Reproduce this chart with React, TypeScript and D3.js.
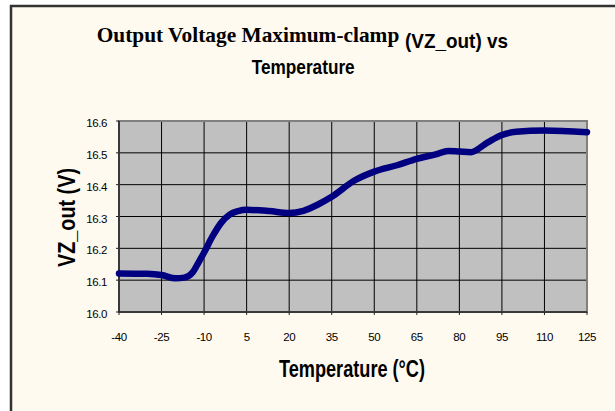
import * as d3 from "d3";

const W = 615, H = 411;
const PLOT = { left: 119, right: 587, top: 121, bottom: 312 };

// temperature (°C) and VZ_out (V)
const temps = [-40, -30, -25, -20, -17, -14, -12, -10, -7, -4, -1, 2, 5, 13, 20, 25, 30, 35, 43, 50, 58, 65, 72, 76, 80, 84, 90, 95, 100, 110, 125];
const vzOut = [16.121, 16.12, 16.116, 16.106, 16.108, 16.125, 16.155, 16.187, 16.238, 16.28, 16.306, 16.317, 16.321, 16.317, 16.311, 16.318, 16.337, 16.362, 16.413, 16.441, 16.461, 16.481, 16.496, 16.506, 16.504, 16.502, 16.533, 16.556, 16.566, 16.57, 16.565];

const xTicks = [-40, -25, -10, 5, 20, 35, 50, 65, 80, 95, 110, 125];
const yTicks = [16.0, 16.1, 16.2, 16.3, 16.4, 16.5, 16.6];

const SANS = "'Liberation Sans', Arial, sans-serif";
const SERIF = "'Liberation Serif', 'Times New Roman', serif";

export default function App() {
  const x = d3.scaleLinear([-40, 125], [PLOT.left, PLOT.right]);
  const y = d3.scaleLinear([16.0, 16.6], [PLOT.bottom, PLOT.top]);

  const line = d3
    .line<number>()
    .x((_, i) => x(temps[i]))
    .y((v) => y(v))
    .curve(d3.curveMonotoneX);

  return (
    <div style={{ position: "fixed", left: 0, top: 0 }}>
      <svg width={W} height={H} style={{ display: "block", background: "#ffffff" }}>
        {/* frame */}
        <rect x={11} y={6} width={640} height={440} fill="#FFFAF0" stroke="#333333" strokeWidth={2.5} />

        {/* title */}
        <text x={96.7} y={41.7} fontFamily={SERIF} fontWeight="bold" fontSize={21}
          textLength={302.6} lengthAdjust="spacingAndGlyphs" fill="#000">
          Output Voltage Maximum-clamp
        </text>
        <text x={405} y={48.3} fontFamily={SANS} fontWeight="bold" fontSize={21}
          textLength={103} lengthAdjust="spacingAndGlyphs" fill="#000">
          (VZ_out) vs
        </text>
        <text x={251.7} y={74.3} fontFamily={SANS} fontWeight="bold" fontSize={21}
          textLength={103} lengthAdjust="spacingAndGlyphs" fill="#000">
          Temperature
        </text>

        {/* plot area */}
        <rect x={PLOT.left} y={PLOT.top} width={PLOT.right - PLOT.left} height={PLOT.bottom - PLOT.top}
          fill="#C0C0C0" />

        {/* grid */}
        {yTicks.slice(1, -1).map((t) => (
          <line key={`gy${t}`} x1={PLOT.left} x2={PLOT.right} y1={y(t)} y2={y(t)} stroke="#000" strokeWidth={1} />
        ))}
        {xTicks.slice(1, -1).map((t) => (
          <line key={`gx${t}`} x1={x(t)} x2={x(t)} y1={PLOT.top} y2={PLOT.bottom} stroke="#000" strokeWidth={1} />
        ))}

        {/* plot border */}
        <rect x={PLOT.left} y={PLOT.top} width={PLOT.right - PLOT.left} height={PLOT.bottom - PLOT.top}
          fill="none" stroke="#808080" strokeWidth={2} />

        {/* axes */}
        <line x1={PLOT.left} x2={PLOT.left} y1={PLOT.top} y2={PLOT.bottom} stroke="#222" strokeWidth={1.5} />
        <line x1={PLOT.left} x2={PLOT.right} y1={PLOT.bottom} y2={PLOT.bottom} stroke="#222" strokeWidth={1.5} />
        {yTicks.map((t) => (
          <g key={`ty${t}`}>
            <line x1={PLOT.left - 3} x2={PLOT.left} y1={y(t)} y2={y(t)} stroke="#222" strokeWidth={1} />
            <text x={107} y={y(t) + 6} textAnchor="end" fontFamily={SANS} fontSize={11.5}
              letterSpacing={-0.4} fill="#000">
              {t.toFixed(1)}
            </text>
          </g>
        ))}
        {xTicks.map((t) => (
          <g key={`tx${t}`}>
            <line x1={x(t)} x2={x(t)} y1={PLOT.bottom} y2={PLOT.bottom + 3} stroke="#222" strokeWidth={1} />
            <text x={x(t)} y={341} textAnchor="middle" fontFamily={SANS} fontSize={11.5}
              letterSpacing={-0.4} fill="#000">
              {t}
            </text>
          </g>
        ))}

        {/* series */}
        <path d={line(vzOut) ?? ""} fill="none" stroke="#000080" strokeWidth={6.5}
          strokeLinecap="round" strokeLinejoin="round" />

        {/* axis titles */}
        <text x={279} y={377} fontFamily={SANS} fontWeight="bold" fontSize={24}
          textLength={146} lengthAdjust="spacingAndGlyphs" fill="#000">
          Temperature (°C)
        </text>
        <text transform={`translate(75, 217.5) rotate(-90)`} textAnchor="middle" fontFamily={SANS}
          fontWeight="bold" fontSize={24} textLength={99} lengthAdjust="spacingAndGlyphs" fill="#000">
          VZ_out (V)
        </text>
      </svg>
    </div>
  );
}
